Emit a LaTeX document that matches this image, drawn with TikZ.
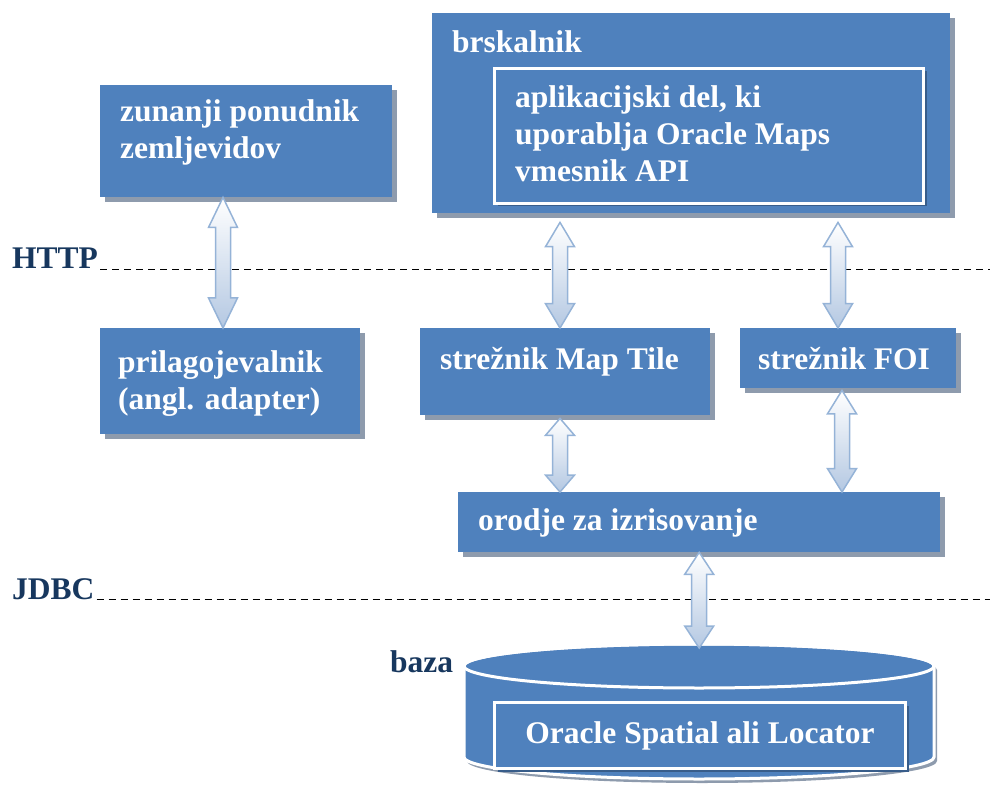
\documentclass[tikz,border=0pt]{standalone}
\usepackage{fontspec}
\setmainfont{Liberation Serif}
\usetikzlibrary{calc, shadows}
\definecolor{boxblue}{HTML}{4F81BD}
\definecolor{shadowgray}{HTML}{8E9BAD}
\definecolor{innershadow}{HTML}{385D8A}
\definecolor{navy}{HTML}{17375E}
\definecolor{arrowline}{HTML}{95B3D7}
\definecolor{arrowblue}{HTML}{B4C8E2}
\tikzset{box/.style={fill=boxblue, anchor=north west, inner sep=0pt, drop shadow={shadow xshift=5pt, shadow yshift=-5pt, fill=shadowgray, opacity=1}}}
\tikzset{innerbox/.style={fill=boxblue, anchor=north west, inner sep=0pt, draw=white, line width=3pt, drop shadow={shadow xshift=3pt, shadow yshift=-3pt, fill=innershadow, opacity=1}}}
\tikzset{boxtext/.style={text=white, anchor=base west, inner sep=0pt, align=left}}
\tikzset{sidetext/.style={text=navy, anchor=base west, inner sep=0pt}}
\tikzset{lined/.style={thick, black, dash pattern=on 7pt off 5pt}}
\tikzset{arrowbody/.style={draw=arrowline, line width=1.5pt, line join=miter, top color=white, bottom color=arrowblue}}
\newcommand{\dblarrow}[2]{\path[arrowbody] let \p1=(#1), \p2=(#2), \n1={0.23*(\y2-\y1)} in
 (\x1,\y1) -- (\x1+14.5pt,\y1+\n1) -- (\x1+7.5pt,\y1+\n1) -- (\x1+7.5pt,\y2-\n1) -- (\x1+14.5pt,\y2-\n1) --
 (\x1,\y2) -- (\x1-14.5pt,\y2-\n1) -- (\x1-7.5pt,\y2-\n1) -- (\x1-7.5pt,\y1+\n1) -- (\x1-14.5pt,\y1+\n1) -- cycle}

\begin{document}
\begin{tikzpicture}[x=1pt, y=-1pt, font=\fontsize{31.5}{37}\selectfont\bfseries]
		\useasboundingbox (0,0) rectangle (990,791);

		% Boxes
		\node[box, minimum width=292pt, minimum height=112pt] (zun) at (100,85) {};
		\node[box, minimum width=518pt, minimum height=200pt] (brs) at (432,13) {};
		\node[innerbox, minimum width=429pt, minimum height=135pt] (app) at (493,67) {};
		\node[box, minimum width=260pt, minimum height=106pt] (pri) at (100,328) {};
		\node[box, minimum width=290pt, minimum height=87pt] (mts) at (420,328) {};
		\node[box, minimum width=216pt, minimum height=60pt] (foi) at (740,328) {};
		\node[box, minimum width=482pt, minimum height=60pt] (ren) at (458,492) {};

		% Database
		\coordinate (baza) at (699,648);
		\fill[shadowgray] (467,670) -- (467,761) arc[start angle=180, end angle=0, x radius=235, y radius=22] -- (937,670) arc[start angle=0, end angle=-180, x radius=235, y radius=22] -- cycle;
		\path[fill=boxblue, draw=white, line width=3pt] (464,666) -- (464,757) arc[start angle=180, end angle=0, x radius=235, y radius=22] -- (934,666) arc[start angle=0, end angle=-180, x radius=235, y radius=22] -- cycle;
		\draw[white, line width=3pt] (699,666) ellipse[x radius=235, y radius=22];
		\node[innerbox, minimum width=411pt, minimum height=66pt, text=white] (ora) at (493,701) {Oracle Spatial ali Locator};

		% Layers
		\node[sidetext] (http) at (12,269) {HTTP};
		\node[sidetext] (jdbc) at (12,599) {JDBC};
		\node[sidetext] (bazat) at (390,672) {baza};
		\draw[lined] ([xshift=2pt]http.base east) -- (990,0 |- http.base east);
		\draw[lined] ([xshift=2pt]jdbc.base east) -- (990,0 |- jdbc.base east);

		% Arrows
		\dblarrow{223,0 |- zun.south}{223,0 |- pri.north};
		\dblarrow{$(560,0 |- brs.south)+(0,9)$}{560,0 |- mts.north};
		\dblarrow{$(838,0 |- brs.south)+(0,9)$}{838,0 |- foi.north};
		\dblarrow{$(560,0 |- mts.south)+(0,3)$}{560,0 |- ren.north};
		\dblarrow{$(842,0 |- foi.south)+(0,2)$}{842,0 |- ren.north};
		\dblarrow{ren.south}{baza};

		% Texts (multi-line: base = last line)
		\node[boxtext] (zunt) at (120,159) {zunanji ponudnik\\zemljevidov};
		\node[boxtext] (brst) at (452,53) {brskalnik};
		\node[boxtext] (appt) at (515,182) {aplikacijski del, ki\\uporablja Oracle Maps\\vmesnik API};
		\node[boxtext] (prit) at (118,409) {prilagojevalnik\\(angl. adapter)};
		\node[boxtext] (mtst) at (440,369) {strežnik Map Tile};
		\node[boxtext] (foit) at (758,369) {strežnik FOI};
		\node[boxtext] (rent) at (478,530) {orodje za izrisovanje};
	\end{tikzpicture}
\end{document}
